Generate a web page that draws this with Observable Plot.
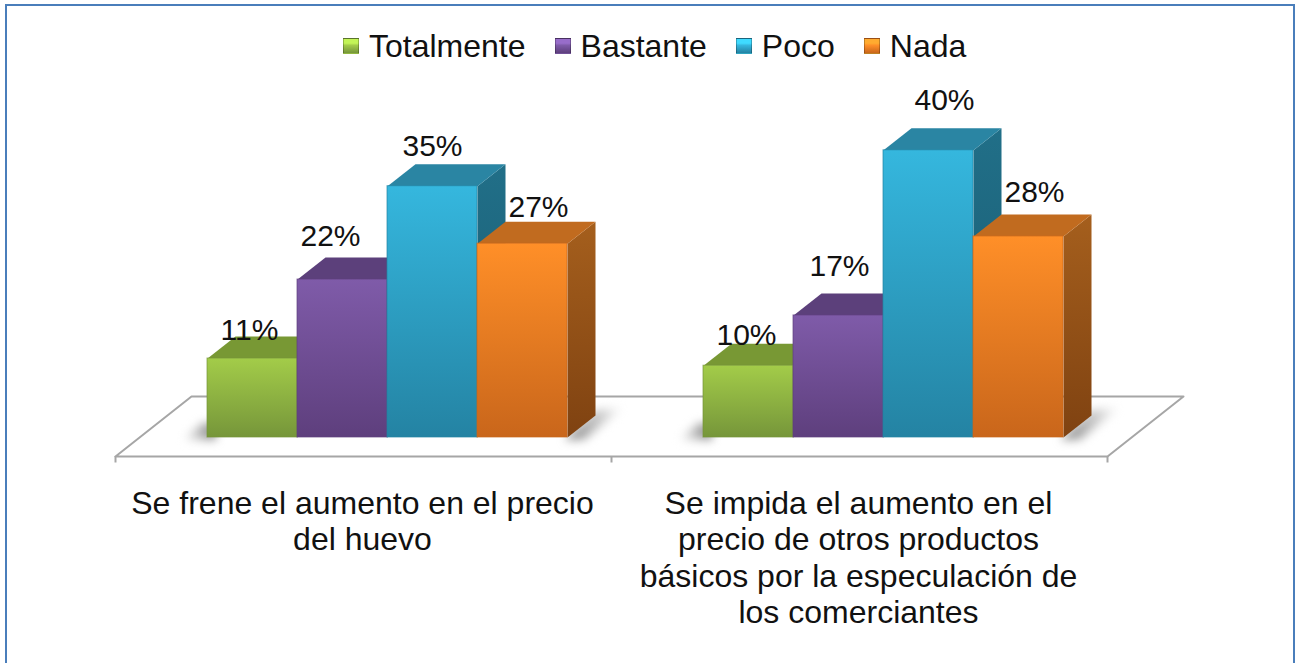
<!DOCTYPE html>
<html lang="es">
<head>
<meta charset="utf-8">
<script src="https://cdn.jsdelivr.net/npm/d3@7"></script>
<script src="https://cdn.jsdelivr.net/npm/@observablehq/plot@0.6"></script>
<style>
  html, body { margin: 0; padding: 0; background: #fff; overflow: hidden; width: 1302px; height: 663px; }
  body { position: relative; font-family: "Liberation Sans", Arial, sans-serif; }
  #frame { position: absolute; left: 5px; top: 4px; width: 1290px; height: 700px; border: 2px solid #4a7ebb; box-sizing: border-box; pointer-events: none; }
  #legend { position: relative; height: 76px; display: flex; align-items: center; padding: 16px 0 0 343px; box-sizing: border-box; font-size: 32px; color: #111; }
  .item { display: flex; align-items: center; margin-right: 29px; }
  .sw { width: 16px; height: 16px; margin-right: 10px; box-sizing: border-box; border: 1px solid rgba(0,0,0,.25); }
  #chart svg { display: block; }
  .shadow { filter: blur(5px); }
</style>
</head>
<body>
<div id="frame"></div>
<div id="legend"></div>
<div id="chart"></div>
<script>
const categories = [
  "Se frene el aumento en el precio\ndel huevo",
  "Se impida el aumento en el\nprecio de otros productos\nbásicos por la especulación de\nlos comerciantes"
];
const series = ["Totalmente", "Bastante", "Poco", "Nada"];
const frenoValues = [11, 22, 35, 27];
const impideValues = [10, 17, 40, 28];
const colorsTop = ["#a3cc49", "#7f5ba9", "#35b7de", "#ff8f28"];
const colorsBottom = ["#76963a", "#5e3f7d", "#2483a3", "#c9661b"];
const colorsCap = ["#789834", "#5c407b", "#2a85a3", "#c16b1f"];
const colorsSideTop = ["#5f7f2c", "#4c3368", "#216f88", "#a55f1d"];
const colorsSideBottom = ["#4d6722", "#3c2752", "#185a70", "#7f4211"];
// hand placement of the value labels in the original: [sideways, above the bar]
const labelNudges = [
  [[-3, 28], [-12, 43], [0, 40], [16, 36]],
  [[-2, 30], [1, 49], [16, 50], [16, 44]]
];

const width = 1302, height = 587;
const pxPerPct = 7.18, baseY = 361, xLeft = 115, xRight = 1107;
const slotPx = (xRight - xLeft) / categories.length;
const barStart = 92 / slotPx, barW = 90 / slotPx;
const depthX = 28 / slotPx, depthY = 22 / pxPerPct;
const floorFront = -19 / pxPerPct, floorBack = 41 / pxPerPct, floorDepth = 76 / slotPx;
const tickEnd = -25.5 / pxPerPct;

const bars = [frenoValues, impideValues].flatMap((vals, c) =>
  vals.map((v, s) => ({c, s, v, x1: c + barStart + s * barW, x2: c + barStart + (s + 1) * barW, nudge: labelNudges[c][s]})));

// legend
const legend = d3.select("#legend");
series.forEach((name, i) => {
  const it = legend.append("div").attr("class", "item");
  it.append("div").attr("class", "sw").style("background",
    `linear-gradient(to bottom, ${d3.color(colorsTop[i]).brighter(0.5)} 0 30%, ${colorsTop[i]} 45%, ${colorsBottom[i]} 100%)`);
  it.append("span").text(name);
});

const defs = () => {
  const s = d3.create("svg:g");
  const d = s.append("defs");
  const grad = (id, a, b, horizontal) => {
    const g = d.append("linearGradient").attr("id", id)
      .attr("x1", 0).attr("y1", 0).attr("x2", horizontal ? 1 : 0).attr("y2", horizontal ? 0 : 1);
    g.append("stop").attr("offset", 0).attr("stop-color", a);
    g.append("stop").attr("offset", 1).attr("stop-color", b);
  };
  series.forEach((_, i) => {
    grad("front" + i, colorsTop[i], colorsBottom[i]);
    grad("side" + i, colorsSideTop[i], colorsSideBottom[i]);
  });
  grad("shR", "#808080", "#ffffff", true);
  grad("shL", "#ffffff", "#808080", true);
  return s.node();
};

const poly = (pts, fill, extra = {}) => Plot.line(pts, {x: "x", y: "y", fill, stroke: "none", curve: "linear", ...extra});

const floors = [
  {x: 0, y: floorFront}, {x: floorDepth, y: floorBack}, {x: 2 + floorDepth, y: floorBack}, {x: 2, y: floorFront}, {x: 0, y: floorFront}
];

const shadowMarks = categories.flatMap((_, c) => {
  const l = c + barStart, r = c + barStart + 4 * barW;
  return [
    poly([{x: r - 0.1 * depthX, y: -0.3}, {x: r + depthX, y: depthY * 1.25}, {x: r + 2 * depthX, y: depthY * 1.35}, {x: r + 0.6 * depthX, y: -0.3}], "url(#shR)", {className: "shadow"}),
    poly([{x: l - 0.9 * depthX, y: -0.3}, {x: l - 0.2 * depthX, y: depthY * 0.65}, {x: l + 0.3 * depthX, y: depthY * 0.65}, {x: l + 0.3 * depthX, y: -0.3}], "url(#shL)", {className: "shadow"})
  ];
});

const barMarks = bars.flatMap(b => {
  const dx = depthX, dy = depthY;
  return [
    poly([{x: b.x2, y: 0}, {x: b.x2 + dx, y: dy}, {x: b.x2 + dx, y: b.v + dy}, {x: b.x2, y: b.v}], `url(#side${b.s})`),
    poly([{x: b.x1, y: b.v}, {x: b.x1 + dx, y: b.v + dy}, {x: b.x2 + dx, y: b.v + dy}, {x: b.x2, y: b.v}], colorsCap[b.s]),
    Plot.rect([b], {x1: "x1", x2: "x2", y1: 0, y2: "v", fill: `url(#front${b.s})`, stroke: colorsBottom[b.s], strokeWidth: 1, strokeOpacity: 0.7})
  ];
});

const labelMarks = bars.map(b =>
  Plot.text([b], {x: d => (d.x1 + d.x2) / 2, y: "v", text: d => d.v + "%", dx: b.nudge[0], dy: -b.nudge[1],
    fontSize: 30, fill: "#111", lineAnchor: "middle", textAnchor: "middle"}));

const plot = Plot.plot({
  width, height, margin: 0,
  style: {fontFamily: '"Liberation Sans", Arial, sans-serif', background: "transparent", overflow: "visible"},
  x: {domain: [0, 2], range: [xLeft, xRight], axis: null},
  y: {domain: [-(height - baseY) / pxPerPct, baseY / pxPerPct], range: [height, 0], axis: null},
  marks: [
    defs,
    poly(floors, "none", {stroke: "#a6a6a6", strokeWidth: 2}),
    Plot.ruleX([0, 1, 2], {x: d => d, y1: floorFront, y2: tickEnd, stroke: "#a6a6a6", strokeWidth: 2}),
    ...shadowMarks,
    ...barMarks,
    ...labelMarks,
    Plot.text(categories, {x: (d, i) => i + 0.5, y: floorFront, text: d => d, dx: -1, dy: 31, lineAnchor: "top",
      textAnchor: "middle", fontSize: 32, lineHeight: 1.145, fill: "#111"})
  ]
});
document.getElementById("chart").appendChild(plot);
</script>
</body>
</html>
